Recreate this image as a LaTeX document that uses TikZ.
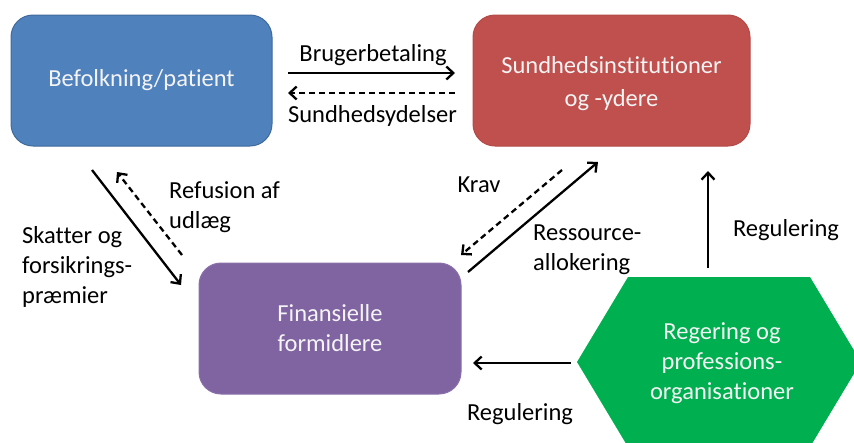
\documentclass[tikz,border=0pt]{standalone}
\usepackage{fontspec}
\setmainfont{Carlito}[Ligatures=NoCommon]
\usetikzlibrary{arrows.meta,calc}

\definecolor{popblue}{HTML}{4F81BD}
\definecolor{popblueline}{HTML}{3F6A9C}
\definecolor{instred}{HTML}{C0504D}
\definecolor{instredline}{HTML}{B44A47}
\definecolor{finpurple}{HTML}{8064A2}
\definecolor{finpurpleline}{HTML}{8A70AA}
\definecolor{govgreen}{HTML}{00B050}
\definecolor{boxtext}{HTML}{F4F4F4}

\begin{document}
\begin{tikzpicture}[x=1pt,y=-1pt,
  txt/.style={font=\fontsize{24.5}{30}\selectfont},
  actor/.style={txt, rounded corners=22pt, inner sep=0pt, align=center,
    text=boxtext, minimum height=131pt, line width=1pt},
  lbl/.style={txt, inner sep=0pt, align=left, text=black},
  flow/.style={line width=2.3pt, -{Straight Barb[length=7pt,width=13pt,line width=2.3pt]}},
  backflow/.style={flow, dash pattern=on 6pt off 4pt}]

  \useasboundingbox (0,0) rectangle (854,442);
  \clip (0,0) rectangle (854,442);

  % actors
  \node[actor, fill=popblue, draw=popblueline, minimum width=261pt]
    (bef) at (141.5,80.5) {Befolkning/patient};
  \node[actor, fill=instred, draw=instredline, minimum width=277pt]
    (sund) at (611.5,80.5) {};
  \node[txt, align=center, text=boxtext, inner sep=0pt, font=\fontsize{24.5}{33}\selectfont]
    (sundtxt) at ($(sund)+(0,3)$) {Sundhedsinstitutioner\\og -ydere};
  \node[actor, fill=finpurple, draw=finpurpleline, minimum width=262pt]
    (fin) at (330,328.5) {Finansielle\\formidlere};

  % government hexagon
  \coordinate (govc) at (719,362);
  \fill[govgreen] ($(govc)+(-142,0)$) -- ($(govc)+(-91,-85)$) -- ($(govc)+(91,-85)$)
    -- ($(govc)+(142,0)$) -- ($(govc)+(91,85)$) -- ($(govc)+(-91,85)$) -- cycle;
  \node[txt, align=center, text=boxtext, inner sep=0pt]
    (gov) at ($(govc)+(3,1.5)$) {Regering og\\professions-\\organisationer};

  % population <-> institutions
  \draw[flow] ($(bef)+(146.5,-7.5)$) -- ($(sund)+(-156.5,-7.5)$);
  \draw[backflow] ($(sund)+(-156.5,12.5)$) -- ($(bef)+(146.5,12.5)$);
  \node[lbl] (lbruger) at (373,55) {Brugerbetaling};
  \node[lbl] (lsund) at (372.5,116) {Sundhedsydelser};

  % population <-> financial intermediaries
  \draw[flow] ($(bef)+(-49.5,89.5)$) -- ($(fin)+(-149,-43.5)$);
  \draw[backflow] ($(fin)+(-148,-73.5)$) -- ($(bef)+(-24.5,91.5)$);
  \node[lbl, anchor=west] (lref) at (169,207.5) {Refusion af\\udlæg};
  \node[lbl, anchor=west] (lskat) at (22,267) {Skatter og\\forsikrings-\\præmier};

  % institutions <-> financial intermediaries
  \draw[backflow] ($(sund)+(-49.5,89.5)$) -- ($(fin)+(131,-73.5)$);
  \draw[flow] ($(fin)+(138,-56.5)$) -- ($(sund)+(-13.5,81.5)$);
  \node[lbl] (lkrav) at (479,185) {Krav};
  \node[lbl, anchor=west] (lres) at (533,250) {Ressource-\\allokering};

  % regulation
  \draw[flow] ($(govc)+(-11,-94)$) -- ($(sund)+(96.5,90.5)$);
  \draw[flow] ($(govc)+(-148,1)$) -- ($(fin)+(143,34.5)$);
  \node[lbl] (lreg1) at (786,230) {Regulering};
  \node[lbl] (lreg2) at (520,414) {Regulering};
\end{tikzpicture}
\end{document}
